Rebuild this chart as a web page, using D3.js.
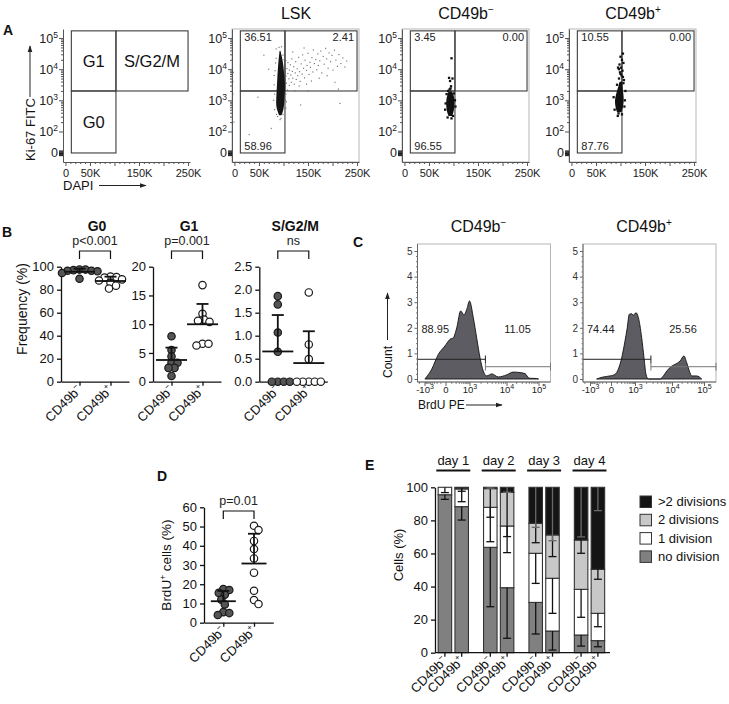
<!DOCTYPE html>
<html>
<head>
<meta charset="utf-8">
<script src="https://cdn.jsdelivr.net/npm/d3@7/dist/d3.min.js"></script>
<style>
html,body{margin:0;padding:0;background:#fff;}
svg{display:block;}
</style>
</head>
<body>
<svg id="fig" width="729" height="704" xmlns="http://www.w3.org/2000/svg"></svg>
<script>
// ================= DATA =================
// ---- Panel A: flow cytometry (DAPI in K units, Ki-67 as log10 exponent) ----
const dapiMajor = [0, 50, 100, 150, 200, 250];
const dapiLabelled = [0, 50, 150, 250];
const ki67Zero = 1.31;
const ki67Decades = [2, 3, 4, 5];
const gateDapi = [12, 103, 250];
const gateKi67 = [1.31, 3.3, 5.23];
const phaseNames = ["G0", "G1", "S/G2/M"];
const freqLSK = ["36.51", "2.41", "58.96"];
const freqNeg = ["3.45", "0.00", "96.55"];
const freqPos = ["10.55", "0.00", "87.76"];
// dense population outlines: [Ki-67 exponent, DAPI min, DAPI max]
const lskCore = [[2.52,91,96],[2.64,88,99],[2.8,85,101],[3.0,85,102],[3.3,86,103],[3.6,87,103],[3.9,88,101],[4.1,89,100],[4.3,90,98],[4.45,91,96],[4.58,92,94]];
const negCore = [[2.5,90,97],[2.6,87,100],[2.8,85,102],[3.0,85,102],[3.15,87,101],[3.28,90,97]];
const posCore = [[2.62,93,102],[2.75,90,105],[3.0,88,107],[3.2,91,106],[3.4,95,104],[3.6,98,103]];
// individual events: [DAPI, Ki-67 exponent]
const lskDots = [[101,3.62],[102,3.91],[103,4.12],[103,3.41],[105,3.78],[105,4.28],[106,3.55],[107,4.02],[108,3.33],[109,3.86],
[109,4.21],[111,3.69],[112,3.97],[112,3.48],[114,4.14],[115,3.81],[116,3.58],[117,4.33],[118,3.93],[119,3.71],
[121,4.08],[122,3.52],[124,3.88],[125,4.24],[126,3.67],[128,4.01],[129,3.79],[131,4.38],[133,3.92],[134,3.61],
[136,4.17],[138,3.84],[139,4.46],[141,4.03],[143,3.72],[144,4.29],[147,3.96],[148,4.12],[150,4.51],[152,3.83],
[154,4.22],[155,4.06],[158,4.37],[160,3.91],[161,4.62],[163,4.18],[166,4.31],[168,3.98],[170,4.49],[171,4.12],
[174,4.27],[176,4.58],[178,3.88],[181,4.41],[183,4.16],[186,4.67],[188,4.33],[191,4.03],[193,4.52],[196,4.24],
[199,4.44],[201,3.97],[204,4.61],[207,4.29],[210,4.09],[213,4.47],[217,4.18],[221,4.36],[225,4.07],[229,4.26],
[119,4.55],[142,4.68],[157,3.62],[173,3.71],[189,3.79],[205,3.58],[212,3.36],[132,3.46],[123,3.31],[147,3.52],
[60,4.45],[55,3.3],[75,2.1],[30,1.9],[-3,3.6],[-2,3.9],[-3,3.2],[-1,2.3],[135,2.85],[48,3.1],
[70,4.0],[85,4.65],[150,3.3],[215,2.9],[81,3.5],[80,3.0],[82,2.7],[81,3.8],[105,3.2],[106,2.95],
[105,2.75],[83,3.95],[84,4.2],[85,4.35],[99,4.45],[101,4.3],[95,2.42],[88,2.48],[99,2.55],[91,4.7],
[96,4.72],[82,3.2],[104,3.0],[86,2.55],[93,2.38]];
const negDots = [[96,4.35],[91,3.72],[98,3.7],[93,3.62],[95,3.45],[92,3.35],[84,2.9],[103,3.0],[88,2.45],[99,2.5],[96,2.42],[86,3.2],[101,3.22],[83,2.7],[104,2.8],[94,3.38],[89,3.3]];
const posDots = [[100,4.4],[103,4.3],[98,4.15],[101,4.05],[104,3.95],[99,3.9],[102,3.8],[105,3.75],[97,3.7],[106,3.55],[94.5,2.5],[96,2.58],[103,2.55],[109,3.0],[110,3.3],[86,3.1],[108,2.8],[95,4.05],[106,4.2],[93,3.5],[107,3.65],[100,3.85],[97,4.0],[88,2.7],[105,4.5]];

// ---- Panel B: cell-cycle frequencies (%) ----
const groupKeys = ["neg", "pos"];
const groupSup = ["\u2212", "+"];
const g0Neg = [97.5, 97.5, 97, 96.5, 96.5, 96, 94.5, 89.5];
const g0Pos = [91.5, 91, 90.5, 89, 88, 86, 83.5, 81];
const g1Neg = [7.9, 5.5, 4.4, 3.3, 3.3, 2.4, 2.4, 1.0];
const g1Pos = [16.8, 11.8, 10.8, 10.6, 10.4, 6.6, 6.6, 6.3];
const sNeg = [1.86, 1.68, 1.07, 0.65, 0, 0, 0, 0];
const sPos = [1.94, 0.81, 0.49, 0, 0, 0, 0, 0];
const bPvals = ["p<0.001", "p=0.001", "ns"];
const bMax = [100, 20, 2.5];
const bStep = [20, 5, 0.5];

// ---- Panel C: BrdU histograms [BrdU intensity, count] ----
const brduTicks = [-1000, 0, 1000, 10000, 100000];
const brduTickText = [["-10","3"],["0",""],["10","3"],["10","4"],["10","5"]];
const countTicks = [0, 1, 2, 3, 4, 5];
const histNeg = [[-950,0],[-400,0.38],[-152,0.96],[-10,1.29],[76,1.55],[142,1.61],[231,2.0],[373,2.66],[544,2.5],[760,2.75],[1000,3.05],[1268,2.4],[1565,1.61],[1930,0.83],[2360,0.31],[2940,0.12],[4000,0.2],[6030,0.08],[10000,0.16],[16300,0.27],[26400,0.25],[37800,0.21],[51600,0.03],[85000,0.02],[100000,0]];
const histPos = [[-430,0],[-165,0.08],[-19,0.12],[67,0.18],[131,0.38],[216,0.83],[324,1.48],[423,2.0],[532,2.53],[695,2.55],[828,2.49],[1063,2.59],[1233,2.4],[1520,1.61],[1755,0.83],[1990,0.18],[2290,0],[4760,0],[5860,0.12],[7230,0.31],[9800,0.5],[12400,0.57],[17800,0.7],[23700,0.9],[28800,0.64],[34800,0.31],[41300,0.12],[59000,0.12],[84700,0]];
const brduGate = 2700;
const brduGateNeg = ["88.95", "11.05"];
const brduGatePos = ["74.44", "25.56"];

// ---- Panel D: BrdU+ cells (%) ----
const dNeg = [17.5, 17, 15.5, 14.5, 12, 9.5, 5.5, 5, 4];
const dPos = [50.4, 48.2, 42.5, 38.3, 33.4, 26, 16.6, 11.8, 9.7];
const dPval = "p=0.01";

// ---- Panel E: divisions (% of cells), order: d1-,d1+,d2-,d2+,d3-,d3+,d4-,d4+ ----
const days = ["day 1", "day 2", "day 3", "day 4"];
const divisionNames = ["no division", "1 division", "2 divisions", ">2 divisions"];
const noDiv   = [95.5, 88.3, 63.7, 39.3, 30.4, 13.1, 10.7, 7.3];
const oneDiv  = [4.5, 10.7, 24.2, 37.3, 29.7, 31.9, 27.6, 16.5];
const twoDiv  = [0, 0.7, 11.3, 20.4, 18.1, 26.2, 29.8, 26.6];
const moreDiv = [0, 0.3, 0.8, 3.0, 21.8, 28.8, 31.9, 49.6];
const noDivSD   = [2.8, 8.1, 35.9, 30.6, 19.1, 11.5, 6.7, 3.7];
const oneDivSD  = [3.2, 7.7, 20.8, 16.1, 18.2, 21.2, 16.9, 8.1];
const twoDivSD  = [0, 2.1, 17.3, 26.8, 11.7, 13.1, 8, 6];
const moreDivSD = [0, 0, 0.5, 3, 24.2, 32.3, 30, 14.1];

// ================= DRAWING =================
const FONT = "'Liberation Sans', Arial, Helvetica, sans-serif";
const INK = "#111";
const svg = d3.select("#fig").attr("font-family", FONT);
svg.append("rect").attr("width", 729).attr("height", 704).attr("fill", "#fff");

const defs = svg.append("defs");
defs.append("marker").attr("id", "arr").attr("viewBox", "0 0 10 10")
  .attr("refX", 9).attr("refY", 5).attr("markerWidth", 7).attr("markerHeight", 7)
  .attr("orient", "auto").attr("markerUnits", "userSpaceOnUse")
  .append("path").attr("d", "M0,1.5 L10,5 L0,8.5 z").attr("fill", "#222");

function supText(t, base, sup, size, dy) {
  t.append("tspan").text(base);
  if (sup) t.append("tspan").attr("font-size", size).attr("dy", -dy).text(sup);
  return t;
}
function styleAxis(g, color, width, fontSize) {
  g.attr("font-family", FONT).attr("font-size", fontSize);
  g.select(".domain").attr("stroke", color).attr("stroke-width", width);
  g.selectAll(".tick line").attr("stroke", color).attr("stroke-width", width);
  g.selectAll(".tick text").attr("fill", INK);
  return g;
}
function rotLabel(g, x, y, sup, size) {
  const t = g.append("text").attr("transform", `translate(${x},${y}) rotate(-45)`)
    .attr("text-anchor", "end").attr("font-size", size).attr("fill", INK);
  supText(t, "CD49b", sup, size * 0.62, size * 0.42);
}

// panel letters
[["A", 3, 35], ["B", 2, 237], ["C", 353, 247], ["D", 157, 481], ["E", 365, 470]].forEach(([l, x, y]) =>
  svg.append("text").attr("x", x).attr("y", y).attr("font-size", 14).attr("font-weight", "bold").attr("fill", INK).text(l));

// ---------- Panel A ----------
const flowX0 = [63, 232, 402, 569];
const flowPlots = [
  { title: null },
  { title: ["LSK", ""], freqs: freqLSK, core: lskCore, dots: lskDots, size: 1.1, color: "#666", coreColor: "#161616" },
  { title: ["CD49b", "\u2212"], freqs: freqNeg, core: negCore, dots: negDots, size: 2.3, color: "#111", coreColor: "#111" },
  { title: ["CD49b", "+"], freqs: freqPos, core: posCore, dots: posDots, size: 2.3, color: "#111", coreColor: "#111" }
];
const minorDapi = d3.range(0, 251, 10).filter(v => v % 50 !== 0);
const minorKi = [];
ki67Decades.slice(0, 3).forEach(k => d3.range(2, 10).forEach(m => minorKi.push(k + Math.log10(m))));
const zeroCluster = d3.range(1.24, 1.40, 0.03);

flowPlots.forEach((p, i) => {
  const ax = flowX0[i];
  const x = d3.scaleLinear().domain([-5, 254]).range([ax, ax + 127]);
  const y = d3.scaleLinear().domain([1.02, 5.29]).range([162, 29]);
  const g = svg.append("g");
  if (i > 0) g.append("rect").attr("x", ax).attr("y", 29).attr("width", 127).attr("height", 133)
    .attr("fill", "none").attr("stroke", "#b5b5b5").attr("stroke-width", 1);
  // gates
  [[0, 1, 1, 2], [0, 1, 0, 1], [1, 2, 1, 2]].forEach(([a, b, c, d]) =>
    g.append("rect").attr("x", x(gateDapi[a])).attr("y", y(gateKi67[d]))
      .attr("width", x(gateDapi[b]) - x(gateDapi[a])).attr("height", y(gateKi67[c]) - y(gateKi67[d]))
      .attr("fill", "none").attr("stroke", "#3c3c3c").attr("stroke-width", 1.1));
  if (p.core) {
    g.selectAll(null).data(p.dots).join("rect")
      .attr("x", d => x(d[0]) - p.size / 2).attr("y", d => y(d[1]) - p.size / 2)
      .attr("width", p.size).attr("height", p.size).attr("fill", p.color);
    g.append("path").datum(p.core)
      .attr("d", d3.area().curve(d3.curveBasis).y(d => y(d[0])).x0(d => x(d[1])).x1(d => x(d[2])))
      .attr("fill", p.coreColor);
  }
  // axes
  const xa = g.append("g").attr("transform", "translate(0,162)")
    .call(d3.axisBottom(x).tickValues(dapiMajor).tickSize(4).tickSizeOuter(0)
      .tickFormat(v => dapiLabelled.includes(v) ? (v === 0 ? "0" : v + "K") : ""));
  styleAxis(xa, "#555", 1, 11);
  xa.selectAll(".tick text").attr("fill", "#222");
  const xm = g.append("g").attr("transform", "translate(0,162)")
    .call(d3.axisBottom(x).tickValues(minorDapi).tickSize(2).tickFormat(""));
  styleAxis(xm, "#555", 1, 11); xm.select(".domain").remove();
  const ya = g.append("g").attr("transform", `translate(${ax},0)`)
    .call(d3.axisLeft(y).tickValues([ki67Zero].concat(ki67Decades)).tickSize(4).tickPadding(1).tickSizeOuter(0));
  styleAxis(ya, "#555", 1, 12.5);
  ya.selectAll(".tick text").attr("fill", "#222").each(function (d) {
    const t = d3.select(this).text(null);
    if (d === ki67Zero) t.text("0");
    else { t.append("tspan").text("10"); t.append("tspan").attr("font-size", 8.5).attr("dy", -5).text(d); }
  });
  const ym = g.append("g").attr("transform", `translate(${ax},0)`)
    .call(d3.axisLeft(y).tickValues(minorKi).tickSize(2).tickFormat(""));
  styleAxis(ym, "#555", 1, 10); ym.select(".domain").remove();
  const yz = g.append("g").attr("transform", `translate(${ax},0)`)
    .call(d3.axisLeft(y).tickValues(zeroCluster).tickSize(4).tickFormat(""));
  styleAxis(yz, "#111", 1, 10); yz.select(".domain").remove();

  if (i === 0) {
    const cx = [(x(gateDapi[0]) + x(gateDapi[1])) / 2, (x(gateDapi[0]) + x(gateDapi[1])) / 2, (x(gateDapi[1]) + x(gateDapi[2])) / 2];
    const cy = [(y(gateKi67[0]) + y(gateKi67[1])) / 2, (y(gateKi67[1]) + y(gateKi67[2])) / 2, (y(gateKi67[1]) + y(gateKi67[2])) / 2];
    phaseNames.forEach((n, k) => g.append("text").attr("x", cx[k]).attr("y", cy[k] + 6)
      .attr("text-anchor", "middle").attr("font-size", 16.5).attr("fill", INK).text(n));
  } else {
    const t = g.append("text").attr("x", ax + 64).attr("y", 19).attr("text-anchor", "middle")
      .attr("font-size", 16).attr("fill", INK);
    supText(t, p.title[0], p.title[1], 10, 6);
    g.append("text").attr("x", x(gateDapi[0]) + 4).attr("y", y(gateKi67[2]) + 10).attr("font-size", 11).attr("fill", "#222").text(p.freqs[0]);
    g.append("text").attr("x", x(gateDapi[2]) - 3).attr("y", y(gateKi67[2]) + 10).attr("text-anchor", "end").attr("font-size", 11).attr("fill", "#222").text(p.freqs[1]);
    g.append("text").attr("x", x(gateDapi[0]) + 4).attr("y", y(gateKi67[0]) - 2.5).attr("font-size", 11).attr("fill", "#222").text(p.freqs[2]);
  }
});
// axis titles for A
svg.append("text").attr("transform", "translate(34.5,161) rotate(-90)").attr("font-size", 13).attr("fill", INK).text("Ki-67 FITC");
svg.append("line").attr("x1", 30).attr("x2", 30).attr("y1", 97).attr("y2", 46).attr("stroke", "#222").attr("marker-end", "url(#arr)");
svg.append("text").attr("x", 63).attr("y", 190).attr("font-size", 13).attr("fill", INK).text("DAPI");
svg.append("line").attr("x1", 99).attr("x2", 146).attr("y1", 185.5).attr("y2", 185.5).attr("stroke", "#222").attr("marker-end", "url(#arr)");

// ---------- scatter helpers ----------
function swarm(values, y, r) {
  const placed = [];
  const out = new Array(values.length);
  const minD = 1.6 * r;
  values.map((v, i) => ({ v, i })).sort((a, b) => b.v - a.v).forEach(({ v, i }) => {
    const py = y(v);
    let off = 0;
    for (let k = 0; k < 400; k++) {
      const o = (k % 2 === 1 ? 1 : -1) * Math.ceil(k / 2) * 0.5;
      if (placed.every(p => Math.hypot(p.x - o, p.y - py) >= minD)) { off = o; break; }
    }
    placed.push({ x: off, y: py });
    out[i] = { v, dx: off, py };
  });
  return out;
}
function scatterPanel(o) {
  const g = svg.append("g");
  const y = d3.scaleLinear().domain([0, o.max]).range([o.bottom, o.top]);
  const x = d3.scalePoint().domain(groupKeys).range([o.ax, o.ax + o.width]).padding(o.pad);
  const ya = g.append("g").attr("transform", `translate(${o.ax},0)`)
    .call(d3.axisLeft(y).tickValues(d3.range(0, o.max + 1e-9, o.step)).tickSize(4).tickSizeOuter(0).tickFormat(o.fmt));
  styleAxis(ya, INK, 1.3, 13);
  const xa = g.append("g").attr("transform", `translate(0,${o.bottom})`)
    .call(d3.axisBottom(x).tickSize(4).tickSizeOuter(0).tickFormat(""));
  styleAxis(xa, INK, 1.3, 13);
  o.sets.forEach((vals, gi) => {
    const cx = x(groupKeys[gi]);
    const pts = swarm(vals, y, o.r);
    g.selectAll(null).data(pts).join("circle")
      .attr("cx", d => cx + d.dx).attr("cy", d => d.py).attr("r", o.r)
      .attr("fill", gi === 0 ? "#555" : "#fff").attr("stroke", "#1a1a1a").attr("stroke-width", 1.2);
    const m = d3.mean(vals), sd = d3.deviation(vals);
    g.append("line").attr("x1", cx - o.mw).attr("x2", cx + o.mw).attr("y1", y(m)).attr("y2", y(m)).attr("stroke", INK).attr("stroke-width", 1.8);
    g.append("line").attr("x1", cx).attr("x2", cx).attr("y1", y(m)).attr("y2", y(m + sd)).attr("stroke", INK).attr("stroke-width", 1.8);
    g.append("line").attr("x1", cx - 6).attr("x2", cx + 6).attr("y1", y(m + sd)).attr("y2", y(m + sd)).attr("stroke", INK).attr("stroke-width", 1.8);
    rotLabel(g, cx + 3, o.bottom + 9, groupSup[gi], 13);
  });
  const bx0 = x(groupKeys[0]), bx1 = x(groupKeys[1]);
  g.append("path").attr("d", `M${bx0},${o.brY + 8}V${o.brY}H${bx1}V${o.brY + 8}`)
    .attr("fill", "none").attr("stroke", INK).attr("stroke-width", 1.2);
  g.append("text").attr("x", (bx0 + bx1) / 2).attr("y", o.brY - 6).attr("text-anchor", "middle")
    .attr("font-size", 12.5).attr("fill", "#222").text(o.p);
  if (o.title) g.append("text").attr("x", (bx0 + bx1) / 2 + 2).attr("y", o.brY - 20).attr("text-anchor", "middle")
    .attr("font-size", 14).attr("font-weight", "bold").attr("fill", INK).text(o.title);
}

// ---------- Panel B ----------
const bAx = [61, 153, 259.3];
const bSets = [[g0Neg, g0Pos], [g1Neg, g1Pos], [sNeg, sPos]];
bSets.forEach((sets, i) => scatterPanel({
  ax: bAx[i], width: 68, pad: 0.597, top: 266.7, bottom: 381.7, max: bMax[i], step: bStep[i],
  fmt: i === 2 ? d3.format(".1f") : d3.format("d"), sets, r: 3.7, mw: 15.5,
  brY: 251, p: bPvals[i], title: phaseNames[i]
}));
svg.append("text").attr("transform", "translate(26.5,309) rotate(-90)").attr("text-anchor", "middle")
  .attr("font-size", 14).attr("fill", INK).text("Frequency (%)");

// ---------- Panel D ----------
scatterPanel({
  ax: 204, width: 69.3, pad: 0.629, top: 507.3, bottom: 622.7, max: 60, step: 10,
  fmt: d3.format("d"), sets: [dNeg, dPos], r: 3.7, mw: 12.5, brY: 511, p: dPval, title: null
});
{
  const t = svg.append("text").attr("transform", "translate(171,565) rotate(-90)").attr("text-anchor", "middle")
    .attr("font-size", 13.5).attr("fill", INK);
  t.append("tspan").text("BrdU");
  t.append("tspan").attr("font-size", 8.5).attr("dy", -5).text("+");
  t.append("tspan").attr("dy", 5).text(" cells (%)");
}

// ---------- Panel C ----------
const T = v => Math.asinh(v / 150) / Math.LN10;
const hX0 = [417.5, 583];
const hists = [
  { title: ["CD49b", "\u2212"], data: histNeg, labels: brduGateNeg },
  { title: ["CD49b", "+"], data: histPos, labels: brduGatePos }
];
const minorBrdu = [-2000].concat(d3.range(-900, 0, 100), d3.range(100, 1000, 100), d3.range(2000, 10000, 1000), d3.range(20000, 100000, 10000));
hists.forEach((h, i) => {
  const ax = hX0[i], top = 244, bot = 382, w = 133;
  const x = d3.scaleLinear().domain(brduTicks.map(T)).range([7, 28, 52, 89, 121].map(d => ax + d));
  const xv = v => x(T(v));
  const y = d3.scaleLinear().domain([0, 5]).range([379, 251]);
  const g = svg.append("g");
  g.append("rect").attr("x", ax).attr("y", top).attr("width", w).attr("height", bot - top)
    .attr("fill", "none").attr("stroke", "#b5b5b5");
  g.append("path").datum(h.data)
    .attr("d", d3.area().curve(d3.curveMonotoneX).x(d => xv(d[0])).y0(y(0)).y1(d => y(d[1])))
    .attr("fill", "#5d5c62").attr("stroke", "#111").attr("stroke-width", 0.9);
  // gates
  const gx = xv(brduGate);
  g.append("line").attr("x1", ax).attr("x2", gx).attr("y1", y(0.77)).attr("y2", y(0.77)).attr("stroke", "#222");
  g.append("line").attr("x1", gx).attr("x2", gx).attr("y1", y(0.92)).attr("y2", y(0.62)).attr("stroke", "#222");
  g.append("line").attr("x1", gx).attr("x2", ax + w).attr("y1", y(0.48)).attr("y2", y(0.48)).attr("stroke", "#777");
  g.append("line").attr("x1", gx).attr("x2", gx).attr("y1", y(0.63)).attr("y2", y(0.33)).attr("stroke", "#777");
  g.append("line").attr("x1", ax + w).attr("x2", ax + w).attr("y1", y(0.63)).attr("y2", y(0.33)).attr("stroke", "#777");
  g.append("text").attr("x", ax + 4).attr("y", 333).attr("font-size", 11).attr("fill", "#222").text(h.labels[0]);
  g.append("text").attr("x", ax + 100).attr("y", 333).attr("text-anchor", "middle").attr("font-size", 11).attr("fill", "#222").text(h.labels[1]);
  // axes
  const ya = g.append("g").attr("transform", `translate(${ax},0)`)
    .call(d3.axisLeft(y).tickValues(countTicks).tickSize(3).tickPadding(2).tickSizeOuter(0).tickFormat(d3.format("d")));
  styleAxis(ya, "#666", 1, 10);
  ya.select(".domain").attr("d", `M0,${top}V${bot}`);
  ya.selectAll(".tick text").attr("fill", "#333");
  const ym = g.append("g").attr("transform", `translate(${ax},0)`)
    .call(d3.axisLeft(y).tickValues(d3.range(0.2, 5, 0.2).filter(v => Math.abs(v - Math.round(v)) > 0.01)).tickSize(1.5).tickFormat(""));
  styleAxis(ym, "#777", 1, 10); ym.select(".domain").remove();
  const xa = g.append("g").attr("transform", `translate(0,${bot})`)
    .call(d3.axisBottom(x).tickValues(brduTicks.map(T)).tickSize(4).tickPadding(0).tickSizeOuter(0));
  styleAxis(xa, "#666", 1, 9.5);
  xa.select(".domain").attr("d", `M${ax},0H${ax + w}`);
  xa.selectAll(".tick text").attr("fill", "#222").each(function (d, k) {
    const t = d3.select(this).text(null);
    t.append("tspan").text(brduTickText[k][0]);
    if (brduTickText[k][1]) t.append("tspan").attr("font-size", 7).attr("dy", -4).text(brduTickText[k][1]);
  });
  const xm = g.append("g").attr("transform", `translate(0,${bot})`)
    .call(d3.axisBottom(x).tickValues(minorBrdu.map(T).filter(t => x(t) >= ax && x(t) <= ax + w)).tickSize(2).tickFormat(""));
  styleAxis(xm, "#666", 0.8, 9); xm.select(".domain").remove();
  const tt = g.append("text").attr("x", ax + 61).attr("y", 231.5).attr("text-anchor", "middle").attr("font-size", 16).attr("fill", INK);
  supText(tt, h.title[0], h.title[1], 10, 6);
});
svg.append("text").attr("transform", "translate(392,378) rotate(-90)").attr("font-size", 12).attr("fill", INK).text("Count");
svg.append("line").attr("x1", 387.5).attr("x2", 387.5).attr("y1", 340).attr("y2", 293).attr("stroke", "#222").attr("marker-end", "url(#arr)");
svg.append("text").attr("x", 418).attr("y", 409).attr("font-size", 12).attr("fill", INK).text("BrdU PE");
svg.append("line").attr("x1", 466).attr("x2", 502).attr("y1", 405).attr("y2", 405).attr("stroke", "#222").attr("marker-end", "url(#arr)");

// ---------- Panel E ----------
{
  const g = svg.append("g");
  const rows = noDiv.map((v, i) => ({ no: v, one: oneDiv[i], two: twoDiv[i], more: moreDiv[i] }));
  const sds = { no: noDivSD, one: oneDivSD, two: twoDivSD, more: moreDivSD };
  const keys = ["no", "one", "two", "more"];
  const fills = { no: "#808080", one: "#ffffff", two: "#c8c8c8", more: "#151515" };
  const stack = d3.stack().keys(keys)(rows);
  const day = d3.scaleBand().domain(days).range([430.6, 430.6 + 4 * 45.4]);
  const grp = d3.scaleBand().domain(groupKeys).range([7.55, 37.85]).paddingInner(0.196);
  const y = d3.scaleLinear().domain([0, 100]).range([652.7, 487.3]);
  const bx = i => day(days[Math.floor(i / 2)]) + grp(groupKeys[i % 2]);
  const bw = grp.bandwidth();
  stack.forEach(layer => {
    g.selectAll(null).data(layer).join("rect")
      .attr("x", (d, i) => bx(i)).attr("width", bw)
      .attr("y", d => y(d[1])).attr("height", d => y(d[0]) - y(d[1]))
      .attr("fill", fills[layer.key]).attr("stroke", "#333").attr("stroke-width", 1.1);
  });
  stack.forEach(layer => {
    layer.forEach((d, i) => {
      const sd = sds[layer.key][i];
      if (sd <= 0) return;
      const cx = bx(i) + bw / 2;
      const col = layer.key === "more" ? "#6a6a6a" : "#111";
      g.append("line").attr("x1", cx).attr("x2", cx).attr("y1", y(d[1])).attr("y2", y(d[1] - sd)).attr("stroke", col).attr("stroke-width", 1.3);
      g.append("line").attr("x1", cx - 4).attr("x2", cx + 4).attr("y1", y(d[1] - sd)).attr("y2", y(d[1] - sd)).attr("stroke", col).attr("stroke-width", 1.3);
    });
  });
  const ya = g.append("g").attr("transform", "translate(435,0)")
    .call(d3.axisLeft(y).tickValues(d3.range(0, 101, 20)).tickSize(4).tickSizeOuter(0));
  styleAxis(ya, INK, 1.3, 13);
  g.append("line").attr("x1", 435).attr("x2", 610).attr("y1", y(0)).attr("y2", y(0)).attr("stroke", INK).attr("stroke-width", 1.3);
  noDiv.forEach((v, i) => {
    const cx = bx(i) + bw / 2;
    g.append("line").attr("x1", cx).attr("x2", cx).attr("y1", y(0)).attr("y2", y(0) + 4).attr("stroke", INK).attr("stroke-width", 1.3);
    rotLabel(g, cx + 3, y(0) + 9, groupSup[i % 2], 13);
  });
  days.forEach(dn => {
    const c = day(dn) + day.bandwidth() / 2;
    g.append("text").attr("x", c).attr("y", 465).attr("text-anchor", "middle").attr("font-size", 13).attr("fill", INK).text(dn);
    g.append("line").attr("x1", c - 17).attr("x2", c + 17).attr("y1", 470.5).attr("y2", 470.5).attr("stroke", INK).attr("stroke-width", 1.8);
  });
  g.append("text").attr("transform", "translate(403,555) rotate(-90)").attr("text-anchor", "middle")
    .attr("font-size", 13).attr("fill", INK).text("Cells (%)");
  // legend
  const legendOrder = ["more", "two", "one", "no"];
  legendOrder.forEach((k, j) => {
    const yy = 496 + j * 18.3;
    g.append("rect").attr("x", 640).attr("y", yy).attr("width", 11.5).attr("height", 11.5)
      .attr("fill", fills[k]).attr("stroke", "#333").attr("stroke-width", 1);
    g.append("text").attr("x", 658).attr("y", yy + 10).attr("font-size", 13).attr("fill", INK)
      .text(divisionNames[keys.indexOf(k)]);
  });
}
</script>
</body>
</html>
